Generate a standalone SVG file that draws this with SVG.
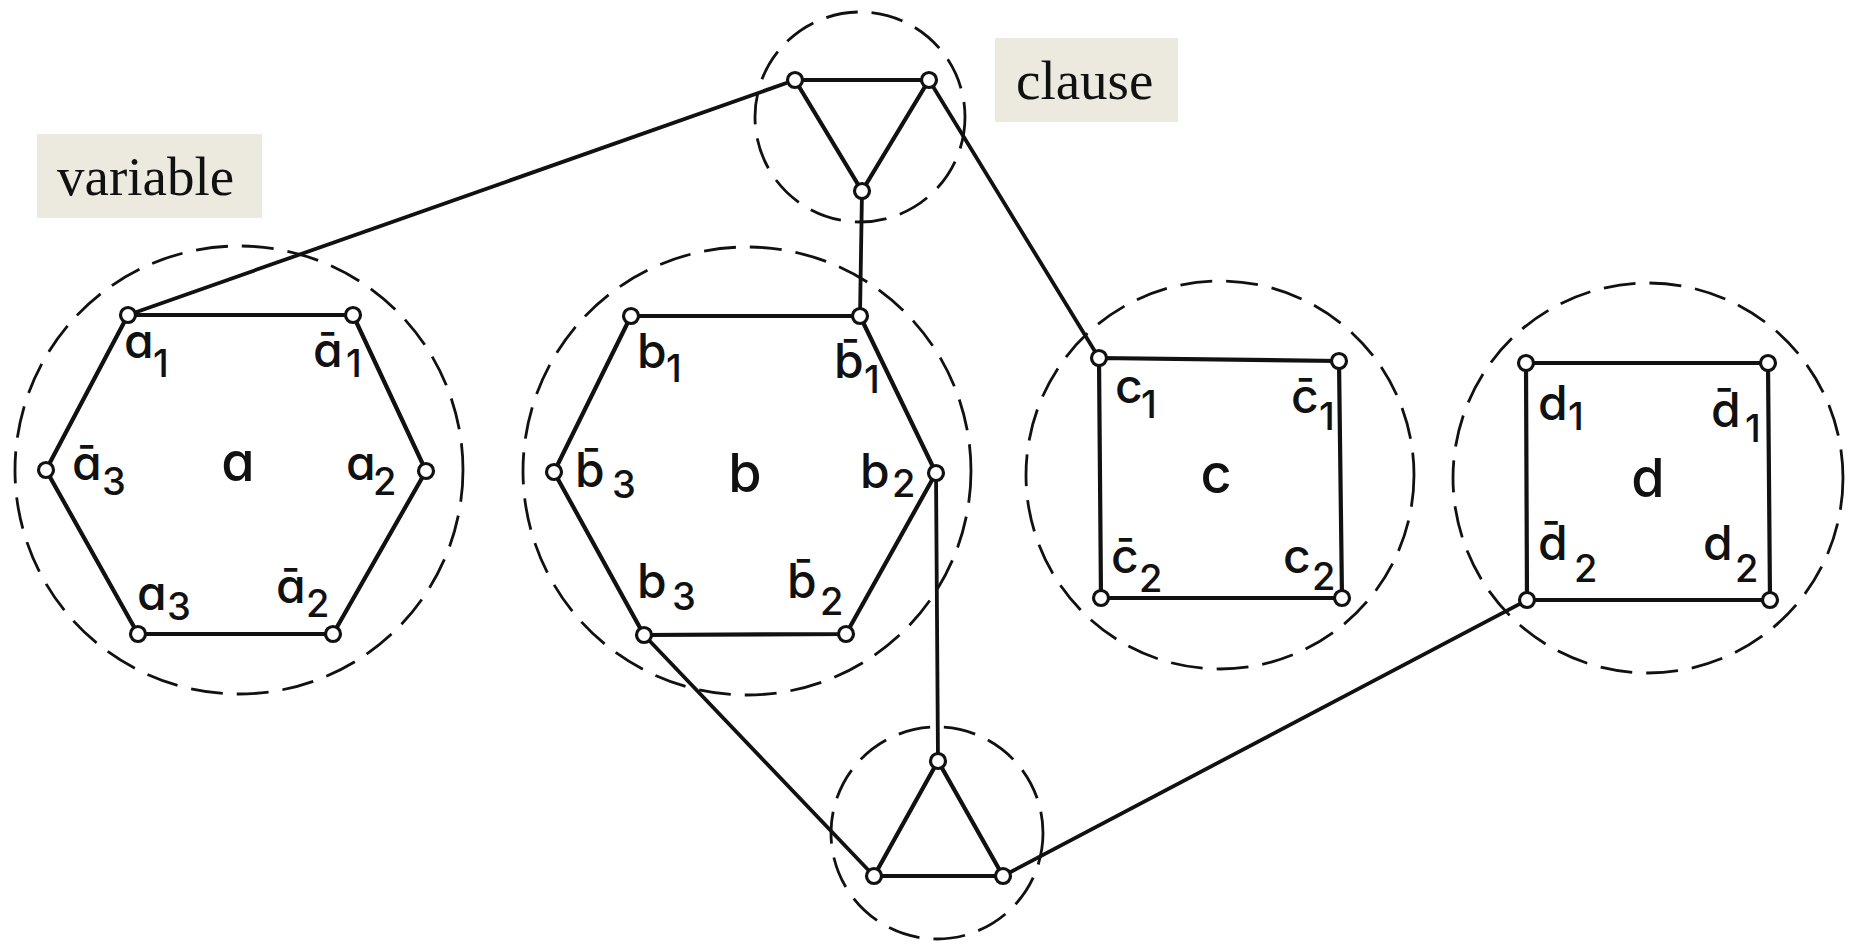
<svg xmlns="http://www.w3.org/2000/svg" width="1849" height="944" viewBox="0 0 1849 944">
<style>
.bg{fill:#ffffff}
.zone{fill:none;stroke:#111;stroke-width:2.8;stroke-dasharray:32 14}
.edge{fill:none;stroke:#111;stroke-width:4.2;stroke-linejoin:round}
.conn{fill:none;stroke:#111;stroke-width:3.8;stroke-linecap:round}
.v{fill:#fff;stroke:#111;stroke-width:3.2}
.lbl{font-family:Inter,"Liberation Sans",sans-serif;font-feature-settings:"cv11";font-size:48px;font-weight:500;fill:#111}
.sub{font-size:38px}
.ctr{font-family:Inter,"Liberation Sans",sans-serif;font-feature-settings:"cv11";font-size:54px;font-weight:500;fill:#111;text-anchor:middle}
.tag{fill:#ece9df}
.tagtext{font-family:"Liberation Serif",serif;font-size:55px;fill:#111}
</style>
<rect class="bg" x="0" y="0" width="1849" height="944"/>

<g id="connectors">
<line class="conn" x1="128" y1="315" x2="795" y2="80"/>
<line class="conn" x1="862" y1="191" x2="860" y2="316"/>
<line class="conn" x1="929" y1="80" x2="1099" y2="358"/>
<line class="conn" x1="936" y1="473" x2="938" y2="761"/>
<line class="conn" x1="644" y1="635" x2="874" y2="876"/>
<line class="conn" x1="1527" y1="600" x2="1003" y2="876"/>
</g>

<g id="variable-a">
<circle class="zone" cx="239" cy="470" r="224"/>
<polygon class="edge" points="128,315 353,315 426,471 333,634 138,634 46,470"/>
<circle class="v" cx="128" cy="315" r="7.5"/>
<circle class="v" cx="353" cy="315" r="7.5"/>
<circle class="v" cx="426" cy="471" r="7.5"/>
<circle class="v" cx="333" cy="634" r="7.5"/>
<circle class="v" cx="138" cy="634" r="7.5"/>
<circle class="v" cx="46" cy="470" r="7.5"/>
<text class="lbl" x="124" y="358">a<tspan class="sub" x="153" y="377">1</tspan></text>
<text class="lbl" x="313" y="367">a&#x304;<tspan class="sub" x="346" y="377">1</tspan></text>
<text class="lbl" x="72" y="480">a&#x304;<tspan class="sub" x="102" y="495">3</tspan></text>
<text class="lbl" x="346" y="480">a<tspan class="sub" x="373" y="495">2</tspan></text>
<text class="lbl" x="137" y="610">a<tspan class="sub" x="167" y="620">3</tspan></text>
<text class="lbl" x="276" y="603">a&#x304;<tspan class="sub" x="306" y="617">2</tspan></text>
<text class="ctr" x="238" y="481">a</text>
</g>

<g id="variable-b">
<circle class="zone" cx="747" cy="471" r="224"/>
<polygon class="edge" points="631,316 860,316 936,473 846,634 644,635 554,472"/>
<circle class="v" cx="631" cy="316" r="7.5"/>
<circle class="v" cx="860" cy="316" r="7.5"/>
<circle class="v" cx="936" cy="473" r="7.5"/>
<circle class="v" cx="846" cy="634" r="7.5"/>
<circle class="v" cx="644" cy="635" r="7.5"/>
<circle class="v" cx="554" cy="472" r="7.5"/>
<text class="lbl" x="637" y="368">b<tspan class="sub" x="666" y="382">1</tspan></text>
<text class="lbl" x="834" y="378">b&#x304;<tspan class="sub" x="864" y="393">1</tspan></text>
<text class="lbl" x="575" y="487">b&#x304;<tspan class="sub" x="612" y="498">3</tspan></text>
<text class="lbl" x="860" y="488">b<tspan class="sub" x="892" y="497">2</tspan></text>
<text class="lbl" x="637" y="598">b<tspan class="sub" x="672" y="610">3</tspan></text>
<text class="lbl" x="787" y="598">b&#x304;<tspan class="sub" x="820" y="615">2</tspan></text>
<text class="ctr" x="745" y="492">b</text>
</g>

<g id="variable-c">
<circle class="zone" cx="1220" cy="475" r="194"/>
<polygon class="edge" points="1099,358 1339,361 1342,598 1101,598"/>
<circle class="v" cx="1099" cy="358" r="7.5"/>
<circle class="v" cx="1339" cy="361" r="7.5"/>
<circle class="v" cx="1342" cy="598" r="7.5"/>
<circle class="v" cx="1101" cy="598" r="7.5"/>
<text class="lbl" x="1115" y="403">c<tspan class="sub" x="1141" y="418">1</tspan></text>
<text class="lbl" x="1291" y="413">c&#x304;<tspan class="sub" x="1319" y="430">1</tspan></text>
<text class="lbl" x="1111" y="573">c&#x304;<tspan class="sub" x="1139" y="592">2</tspan></text>
<text class="lbl" x="1283" y="573">c<tspan class="sub" x="1312" y="590">2</tspan></text>
<text class="ctr" x="1216" y="493">c</text>
</g>

<g id="variable-d">
<circle class="zone" cx="1648" cy="478" r="195"/>
<polygon class="edge" points="1526,363 1768,363 1770,600 1527,600"/>
<circle class="v" cx="1526" cy="363" r="7.5"/>
<circle class="v" cx="1768" cy="363" r="7.5"/>
<circle class="v" cx="1770" cy="600" r="7.5"/>
<circle class="v" cx="1527" cy="600" r="7.5"/>
<text class="lbl" x="1538" y="420">d<tspan class="sub" x="1568" y="430">1</tspan></text>
<text class="lbl" x="1711" y="427">d&#x304;<tspan class="sub" x="1745" y="442">1</tspan></text>
<text class="lbl" x="1538" y="560">d&#x304;<tspan class="sub" x="1574" y="582">2</tspan></text>
<text class="lbl" x="1703" y="560">d<tspan class="sub" x="1735" y="582">2</tspan></text>
<text class="ctr" x="1648" y="497">d</text>
</g>

<g id="clause-top">
<circle class="zone" cx="860" cy="117" r="105"/>
<polygon class="edge" points="795,80 929,80 862,191"/>
<circle class="v" cx="795" cy="80" r="7.5"/>
<circle class="v" cx="929" cy="80" r="7.5"/>
<circle class="v" cx="862" cy="191" r="7.5"/>
</g>

<g id="clause-bottom">
<circle class="zone" cx="937" cy="833" r="106"/>
<polygon class="edge" points="938,761 874,876 1003,876"/>
<circle class="v" cx="938" cy="761" r="7.5"/>
<circle class="v" cx="874" cy="876" r="7.5"/>
<circle class="v" cx="1003" cy="876" r="7.5"/>
</g>

<g id="tag-variable">
<rect class="tag" x="37" y="134" width="225" height="84"/>
<text class="tagtext" x="57" y="195">variable</text>
</g>

<g id="tag-clause">
<rect class="tag" x="995" y="38" width="183" height="84"/>
<text class="tagtext" x="1016" y="99">clause</text>
</g>
</svg>
